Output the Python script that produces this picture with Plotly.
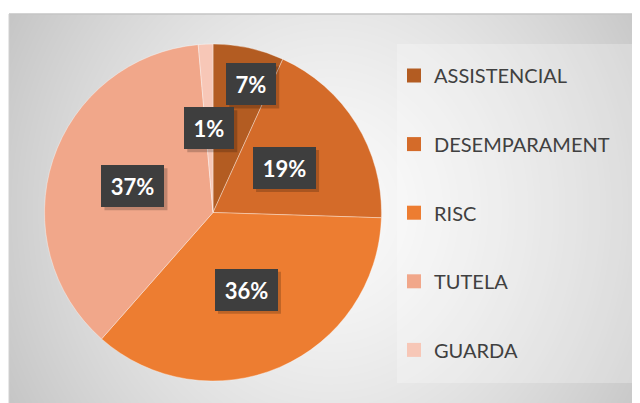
import base64, struct, zlib, math
import numpy as np
import plotly.graph_objects as go

# ---- data ----
categories = ["ASSISTENCIAL", "DESEMPARAMENT", "RISC", "TUTELA", "GUARDA"]
values = [6.8, 18.7, 36.0, 37.1, 1.4]

# ---- style ----
colors = ["#B35C22", "#D46B29", "#ED7D31", "#F1A78A", "#F7C7B7"]
PAGE_W, PAGE_H = 640, 403
OFF = 8                      # browser default body margin
FW, FH = PAGE_W - OFF, PAGE_H - OFF
PIE_CX, PIE_CY, PIE_R = 213, 212.5, 168.5      # page pixels
label_frac = [0.79, 0.5, 0.5, 0.5, 0.5]
label_nudge = [(10, 2), (0, 0), (0, 0), (0, 0), (0, 0)]
AREA_X0, AREA_Y0 = 9, 14                         # page pixels


def fx(p):
    return (p - OFF) / FW


def fy(p):
    return 1 - (p - OFF) / FH


def make_bg_png(w, h, ox, oy):
    yy, xx = np.mgrid[0:h, 0:w].astype(float)
    xx += ox
    yy += oy
    cx, cy = 330.0, 210.0
    d = np.sqrt(((xx - cx) / 335.0) ** 2 + ((yy - cy) / 370.0) ** 2)
    d = np.clip(d, 0, 1.25)
    g = 250 - 46 * d ** 1.4
    g = np.clip(g, 0, 255).astype(np.uint8)
    raw = b"".join(b"\x00" + g[r].tobytes() for r in range(h))

    def chunk(t, data):
        c = struct.pack(">I", len(data)) + t + data
        return c + struct.pack(">I", zlib.crc32(t + data) & 0xFFFFFFFF)

    png = b"\x89PNG\r\n\x1a\n"
    png += chunk(b"IHDR", struct.pack(">IIBBBBB", w, h, 8, 0, 0, 0, 0))
    png += chunk(b"IDAT", zlib.compress(raw, 9))
    png += chunk(b"IEND", b"")
    return "data:image/png;base64," + base64.b64encode(png).decode()


bg_w, bg_h = PAGE_W - AREA_X0, PAGE_H - AREA_Y0
bg_src = make_bg_png(bg_w, bg_h, AREA_X0, AREA_Y0)

fig = go.Figure()
fig.add_trace(go.Pie(
    labels=categories, values=values, sort=False, direction="clockwise",
    rotation=0, marker=dict(colors=colors, line=dict(color="rgba(255,255,255,0.6)", width=0.6)),
    textinfo="none", hoverinfo="label+percent", showlegend=False,
    domain=dict(x=[fx(PIE_CX - PIE_R), fx(PIE_CX + PIE_R)],
                y=[fy(PIE_CY + PIE_R), fy(PIE_CY - PIE_R)]),
))

# legend entries (one group each so they can be spaced out)
for cat, col in zip(categories, colors):
    fig.add_trace(go.Scatter(
        x=[None], y=[None], mode="markers", name=cat, legendgroup=cat,
        marker=dict(symbol="square", size=14, color=col), showlegend=True,
    ))

shapes = [
    dict(type="rect", xref="paper", yref="paper", layer="below",
         x0=fx(397), x1=fx(632), y0=fy(383), y1=fy(44),
         fillcolor="rgba(255,255,255,0.25)", line=dict(width=0)),
    dict(type="line", xref="paper", yref="paper",
         x0=fx(AREA_X0), x1=1, y0=fy(AREA_Y0), y1=fy(AREA_Y0),
         line=dict(color="#c4c4c4", width=1.5)),
    dict(type="line", xref="paper", yref="paper",
         x0=fx(AREA_X0), x1=fx(AREA_X0), y0=0, y1=fy(AREA_Y0),
         line=dict(color="#d0d0d0", width=1)),
]

# data labels
total = sum(values)
annotations = []
cum = 0.0
for i, v in enumerate(values):
    mid = (cum + v / 2) / total * 2 * math.pi
    cum += v
    dist = label_frac[i] * PIE_R
    px = PIE_CX + dist * math.sin(mid) + label_nudge[i][0]
    py = PIE_CY - dist * math.cos(mid) + label_nudge[i][1]
    txt = f"{round(v / total * 100)}%"
    bw = 34 if len(txt) == 2 else 47
    boxw, boxh = bw + 16, 42
    # drop shadow
    shapes.append(dict(
        type="rect", xref="paper", yref="paper", layer="above",
        x0=fx(px - boxw / 2 + 3), x1=fx(px + boxw / 2 + 3),
        y0=fy(py + boxh / 2 + 3), y1=fy(py - boxh / 2 + 3),
        fillcolor="rgba(0,0,0,0.2)", line=dict(width=0)))
    annotations.append(dict(
        x=fx(px), y=fy(py), xref="paper", yref="paper",
        text=f"<b>{txt}</b>", showarrow=False, xanchor="center", yanchor="middle",
        width=bw, height=26, borderpad=8, borderwidth=0,
        bgcolor="#3e3e3e", font=dict(family="Lato", size=22, color="white"),
    ))

fig.update_layout(
    width=FW, height=FH, margin=dict(l=0, r=0, t=0, b=0),
    paper_bgcolor="white", plot_bgcolor="rgba(0,0,0,0)",
    xaxis=dict(visible=False), yaxis=dict(visible=False),
    images=[dict(source=bg_src, xref="paper", yref="paper",
                 x=fx(AREA_X0), y=fy(AREA_Y0), sizex=bg_w / FW, sizey=bg_h / FH,
                 xanchor="left", yanchor="top", sizing="stretch", layer="below")],
    shapes=shapes,
    legend=dict(x=fx(394), y=fy(56), xanchor="left", yanchor="top",
                bgcolor="rgba(0,0,0,0)", borderwidth=0,
                font=dict(family="Lato", size=20, color="#404040"),
                traceorder="grouped", tracegroupgap=39.6),
    annotations=annotations,
)

fig.write_html("out.html")
